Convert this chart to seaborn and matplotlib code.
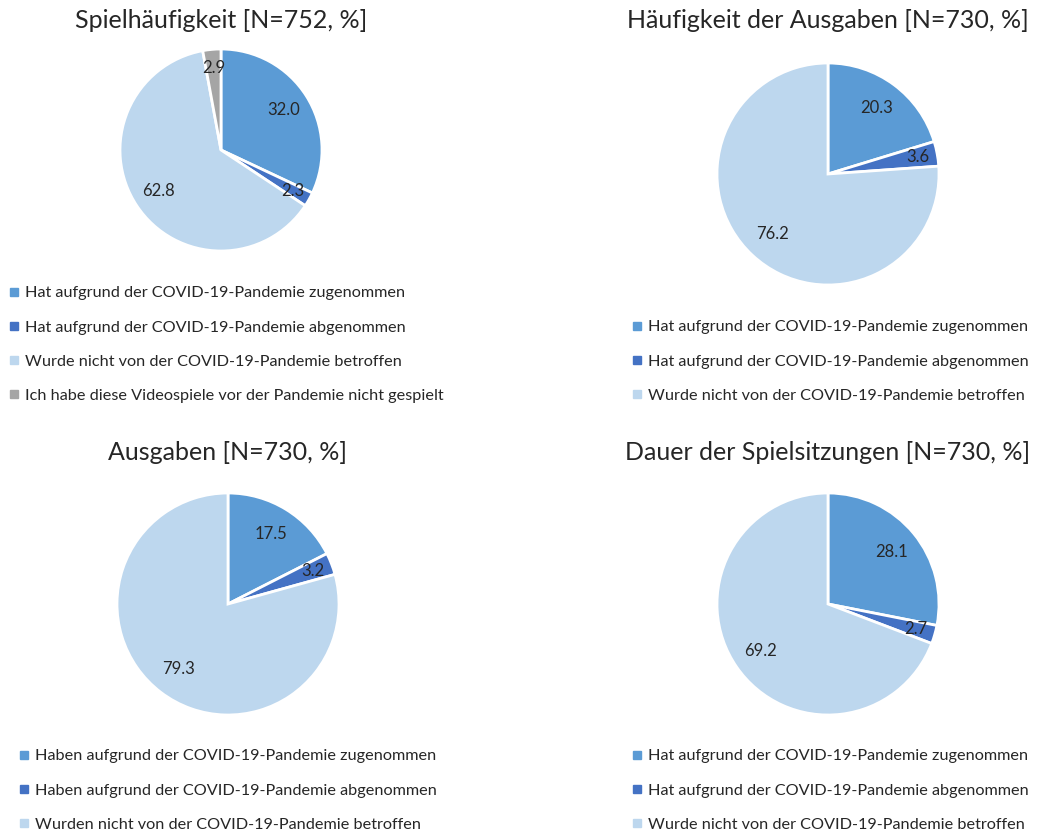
import numpy as np
import seaborn as sns
import matplotlib.pyplot as plt
from matplotlib.lines import Line2D

# data
titles = ['Spielhäufigkeit [N=752, %]', 'Häufigkeit der Ausgaben [N=730, %]',
          'Ausgaben [N=730, %]', 'Dauer der Spielsitzungen [N=730, %]']
spiel_values = [32.0, 2.3, 62.8, 2.9]
haeufigkeit_values = [20.3, 3.6, 76.2]
ausgaben_values = [17.5, 3.2, 79.3]
dauer_values = [28.1, 2.7, 69.2]

labels_hat = ['Hat aufgrund der COVID-19-Pandemie zugenommen',
              'Hat aufgrund der COVID-19-Pandemie abgenommen',
              'Wurde nicht von der COVID-19-Pandemie betroffen']
labels_spiel = labels_hat + ['Ich habe diese Videospiele vor der Pandemie nicht gespielt']
labels_haben = ['Haben aufgrund der COVID-19-Pandemie zugenommen',
                'Haben aufgrund der COVID-19-Pandemie abgenommen',
                'Wurden nicht von der COVID-19-Pandemie betroffen']

sns.set_theme(style="white")
plt.rcParams['font.family'] = ['Lato', 'DejaVu Sans']
colors = sns.color_palette(['#5B9BD5', '#4472C4', '#BDD7EE', '#A5A5A5'])
text_color = '#262626'

W, H = 1039, 835
fig = plt.figure(figsize=(W / 100, H / 100), dpi=100)


def draw_pie(values, labels, title, cx, cy, r, title_y, leg_x, leg_y):
    # axes placed in pixel coords (y from top)
    ax = fig.add_axes([(cx - r) / W, 1 - (cy + r) / H, 2 * r / W, 2 * r / H])
    wedges, _ = ax.pie(values, colors=colors[:len(values)], startangle=90, counterclock=False,
                       wedgeprops=dict(edgecolor='white', linewidth=2))
    ax.set_xlim(-1.0, 1.0)
    ax.set_ylim(-1.0, 1.0)
    ax.set_aspect('equal')
    ax.axis('off')
    for w, v in zip(wedges, values):
        ang = np.deg2rad((w.theta1 + w.theta2) / 2)
        d = 0.74 if v > 10 else 0.82
        ax.text(d * np.cos(ang), d * np.sin(ang), f'{v:.1f}', ha='center', va='center',
                fontsize=12, color=text_color)
    fig.text(cx / W, 1 - title_y / H, title, ha='center', va='center', fontsize=18, color=text_color)
    handles = [Line2D([], [], marker='s', linestyle='', color=c, markersize=5.5) for c in colors[:len(values)]]
    fig.legend(handles, labels, loc='upper left', bbox_to_anchor=(leg_x / W, 1 - leg_y / H),
               bbox_transform=fig.transFigure, frameon=False, fontsize=11.7, borderpad=0,
               borderaxespad=0, handlelength=0.5, handletextpad=0.45, labelspacing=1.22,
               labelcolor=text_color)


draw_pie(spiel_values, labels_spiel, titles[0], 221, 150, 101, 20, 10, 286)
draw_pie(haeufigkeit_values, labels_hat, titles[1], 828, 174, 111, 20, 633, 320)
draw_pie(ausgaben_values, labels_haben, titles[2], 228, 604, 111, 452, 20, 749)
draw_pie(dauer_values, labels_hat, titles[3], 828, 604, 111, 452, 633, 749)

plt.savefig('out.png', dpi=100, facecolor='white')
